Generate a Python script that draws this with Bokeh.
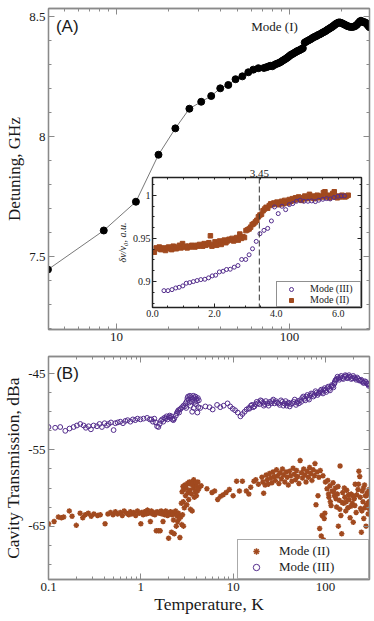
import numpy as np
from bokeh.plotting import figure
from bokeh.layouts import column
from bokeh.models import (FixedTicker, CustomJSTickFormatter, LinearAxis, LogAxis,
                          Range1d, Span, Label, Legend, LegendItem)
from bokeh.embed import file_html
from bokeh.resources import INLINE

# ---------------- data ----------------
# Panel A, Mode (I): temperature (K) vs detuning (GHz)
mode1_T = [4.02, 8.45, 12.96, 17.5, 21.9, 26.4, 30.9, 35.3, 39.8, 44.3, 48.8, 53.4, 57.8, 61.8, 66.1, 71.2,
           73.5, 75.5, 77.5, 79.5, 81.5, 83.5, 85.5, 87.5, 89.5, 91.5, 93.5, 95.5, 97.5, 99.5, 101.5, 103.5,
           105.5, 107.5, 109.5, 111.5, 113.5, 115.5, 117.5, 119.5, 122.5, 125, 128, 131, 134, 137, 140, 143,
           146, 149, 152, 155, 158, 161, 164, 167, 170, 173, 176, 179, 182, 185, 188, 191, 194, 197, 200,
           204, 208, 212, 216, 220, 225, 230, 235, 240, 245, 250, 255, 259, 263, 267, 271, 275, 279, 283,
           287, 290]
mode1_GHz = [7.446, 7.609, 7.729, 7.925, 8.035, 8.117, 8.146, 8.170, 8.202, 8.216, 8.240, 8.252, 8.269,
             8.280, 8.286, 8.287,
             8.290, 8.293, 8.296, 8.294, 8.299, 8.303, 8.306, 8.309, 8.313, 8.318, 8.322, 8.326, 8.331,
             8.336, 8.341, 8.344, 8.348, 8.351, 8.355, 8.358, 8.360, 8.363, 8.366, 8.369, 8.393, 8.397,
             8.401, 8.405, 8.409, 8.414, 8.417, 8.420, 8.424, 8.427, 8.430, 8.434, 8.437, 8.440, 8.444,
             8.448, 8.451, 8.455, 8.458, 8.462, 8.466, 8.470, 8.473, 8.476, 8.477, 8.476, 8.474, 8.471,
             8.468, 8.465, 8.462, 8.460, 8.458, 8.458, 8.459, 8.462, 8.467, 8.474, 8.481, 8.484, 8.481,
             8.478, 8.478, 8.476, 8.471, 8.466, 8.461, 8.457]

# Inset: normalised shift, Mode (III)
inset3_x = [0.37, 0.50, 0.63, 0.75, 0.86, 0.98, 1.09, 1.20, 1.32, 1.44, 1.56, 1.69, 1.81, 1.93, 2.04, 2.16,
            2.28, 2.39, 2.51, 2.64, 2.76, 2.88, 3.01, 3.12, 3.23, 3.35, 3.47, 3.60, 3.72, 3.84, 3.94, 4.06,
            4.18, 4.30, 4.42, 4.53, 4.65, 4.77, 4.89, 5.02, 5.14, 5.26, 5.37, 5.50, 5.62, 5.74, 5.86, 5.99,
            6.09, 6.20]
inset3_y = [0.8895, 0.8895, 0.8907, 0.8926, 0.8934, 0.8950, 0.8981, 0.8988, 0.9000, 0.9012, 0.9023, 0.9027,
            0.9043, 0.9066, 0.9074, 0.9112, 0.9120, 0.9140, 0.9143, 0.9167, 0.9186, 0.9256, 0.9256, 0.9310,
            0.9380, 0.9465, 0.9554, 0.9593, 0.9616, 0.9702, 0.9864, 0.9787, 0.9872, 0.9833, 0.9891, 0.9903,
            0.9930, 0.9942, 0.9930, 0.9930, 0.9934, 0.9926, 0.9942, 0.9953, 0.9961, 0.9957, 0.9973, 0.9988,
            0.9992, 0.9992]

# Inset: normalised shift, Mode (II)
inset2_x = [0.06, 0.12, 0.17, 0.22, 0.27, 0.32, 0.37, 0.42, 0.47,
            0.52, 0.57, 0.62, 0.67, 0.72, 0.77, 0.82, 0.87, 0.92, 0.97,
            1.02, 1.07, 1.12, 1.17, 1.22, 1.27, 1.32, 1.37, 1.42, 1.47,
            1.52, 1.57, 1.62, 1.67, 1.72, 1.77, 1.82, 1.87, 1.92, 1.97,
            2.02, 2.07, 2.12, 2.17, 2.22, 2.27, 2.32, 2.37, 2.42, 2.47,
            2.52, 2.57, 2.62, 2.67, 2.72, 2.77, 2.82, 2.87, 2.92, 2.97,
            3.02, 3.07, 3.12, 3.17, 3.22, 3.27, 3.32, 3.37, 3.42, 3.47,
            3.52, 3.57, 3.62, 3.67, 3.72, 3.77, 3.82, 3.87, 3.92, 3.97,
            4.02, 4.07, 4.12, 4.17, 4.22, 4.27, 4.32, 4.37, 4.42, 4.47,
            4.52, 4.57, 4.62, 4.67, 4.72, 4.77, 4.82, 4.87, 4.92, 4.97,
            5.02, 5.07, 5.12, 5.17, 5.22, 5.27, 5.32, 5.37, 5.42, 5.47,
            5.52, 5.57, 5.62, 5.67, 5.72, 5.77, 5.82, 5.87, 5.92, 5.97,
            6.02, 6.07, 6.12, 6.17, 6.22, 6.27, 6.32]
inset2_y = [0.934, 0.939, 0.938, 0.940, 0.937, 0.939, 0.938, 0.936, 0.939,
            0.940, 0.938, 0.937, 0.941, 0.939, 0.938, 0.940, 0.942, 0.939, 0.944,
            0.940, 0.941, 0.939, 0.941, 0.940, 0.942, 0.941, 0.940, 0.942, 0.941,
            0.943, 0.942, 0.941, 0.944, 0.942, 0.943, 0.945, 0.953, 0.941, 0.943,
            0.946, 0.942, 0.944, 0.947, 0.943, 0.946, 0.948, 0.945, 0.947, 0.949,
            0.948, 0.950, 0.947, 0.949, 0.951, 0.948, 0.955, 0.950, 0.952, 0.951,
            0.959, 0.960, 0.961, 0.963, 0.966, 0.967, 0.969, 0.971, 0.975, 0.977,
            0.978, 0.982, 0.984, 0.986, 0.985, 0.988, 0.990, 0.989, 0.991, 0.990,
            0.992, 0.989, 0.991, 0.993, 0.990, 0.994, 0.992, 0.991, 0.995, 0.993,
            0.996, 0.994, 0.997, 0.995, 0.998, 0.996, 0.994, 0.997, 0.999, 0.996,
            0.998, 1.001, 0.997, 0.999, 0.996, 0.998, 1.000, 0.997, 0.999, 0.998,
            1.003, 1.004, 0.998, 1.000, 0.997, 0.999, 1.002, 1.004, 0.998, 0.997,
            0.999, 0.998, 1.000, 0.999, 0.998, 0.999, 1.000]

# Panel B, Mode (III): temperature (K) vs transmission (dBa)
mode3_T = [0.100, 0.118, 0.134, 0.152, 0.169, 0.187, 0.203, 0.221, 0.240, 0.254, 0.272, 0.288, 0.308,
           0.335, 0.357, 0.379, 0.405, 0.430, 0.448, 0.475, 0.507, 0.529, 0.561, 0.599, 0.641, 0.680,
           0.720, 0.770, 0.820, 0.870, 0.920, 0.990, 1.07, 1.17, 1.25,
           1.30, 1.35, 1.40, 1.45, 1.50, 1.55, 1.60, 1.65, 1.70, 1.75, 1.80, 1.85, 1.90, 1.95, 2.00, 2.05,
           2.10, 2.15, 2.20, 2.25, 2.30, 2.40, 2.45, 2.50, 2.55, 2.60, 2.65, 2.70, 2.80, 2.90, 3.00, 3.05,
           3.10, 3.15, 3.20, 3.25, 3.30, 3.35, 3.40, 3.45, 3.50, 3.55, 3.60, 3.65, 3.70, 3.75, 3.80, 3.85,
           3.90, 3.95, 4.00, 4.05, 4.10, 4.15, 4.20, 4.25,
           4.4, 5.0, 5.56, 6.0, 6.7, 7.25, 7.9, 8.7, 9.3, 9.9, 10.5, 11.2, 12.0, 12.6, 13.3, 14.0, 14.8,
           15.6, 16.5, 17.5, 18.5, 19.8, 21, 22, 23.5, 25, 26.5, 28, 30, 32, 34, 36, 38, 40, 42, 45, 48,
           50, 53, 56, 59, 62, 65, 68, 72, 76, 80, 84, 88, 92, 96, 100, 105, 110, 115, 120, 125, 128,
           132, 138, 145, 152, 160, 168, 176, 185, 195, 205, 215, 226, 238, 250, 262, 275, 288, 300,
           15.0, 16.0, 17.0, 18.0, 19.2, 20.4, 21.5, 22.6, 24.2, 25.8, 27.2, 29.0, 31.0, 33.0, 35.0, 37.0,
           39.0, 41.0, 43.5, 46.5, 49.0, 51.5, 54.5, 57.5, 60.5, 63.5, 66.5, 70.0, 74.0, 78.0, 82.0, 86.0,
           90.0, 94.0, 98.0, 102.0, 107.0, 112.0, 117.0, 122.0, 126.0, 130.0, 135.0, 141.0, 148.0, 156.0,
           164.0, 172.0, 180.0, 190.0, 200.0, 210.0, 220.0, 232.0, 244.0, 256.0, 268.0, 282.0, 294.0]
mode3_dB = [-52.0, -52.1, -52.0, -52.5, -52.2, -52.0, -51.8, -51.6, -51.8, -52.1, -51.9, -52.3, -51.8,
            -51.9, -51.6, -52.0, -51.5, -51.8, -51.6, -51.4, -52.4, -51.5, -51.4, -51.3, -51.5, -51.2,
            -51.1, -51.3, -51.0, -51.1, -50.9, -51.0, -50.9, -50.8, -51.0,
            -51.0, -51.3, -50.9, -51.4, -51.9, -52.0, -51.6, -51.2, -51.0, -51.3, -50.8, -50.9, -50.6,
            -51.0, -50.7, -50.5, -50.8, -50.6, -51.0, -51.1, -50.9, -50.5, -50.2, -50.0, -49.8, -50.1,
            -49.7, -49.6, -49.4, -49.2, -49.3, -48.9, -49.5, -48.6, -48.2, -48.0, -48.4, -48.8, -47.9,
            -49.2, -48.1, -48.6, -50.0, -48.3, -47.9, -49.5, -48.2, -48.7, -48.0, -49.0, -48.3, -48.6,
            -50.1, -48.2, -49.4, -48.5,
            -49.5, -49.3, -49.4, -49.7, -49.1, -49.4, -49.2, -48.9, -49.3, -49.6, -49.8, -50.1, -50.6,
            -50.3, -50.0, -49.7, -49.5, -49.2, -49.4, -49.0, -48.9, -48.5, -48.8, -49.0, -48.9, -48.7,
            -48.6, -48.9, -48.8, -49.1, -48.7, -48.9, -49.2, -48.8, -49.0, -48.7, -49.1, -48.6, -48.5,
            -48.2, -48.3, -48.0, -48.2, -47.9, -47.7, -47.8, -47.5, -47.6, -47.3, -47.4, -47.1, -47.2,
            -46.9, -47.0, -46.7, -46.6, -46.3, -45.9, -45.7, -45.6, -45.5, -45.6, -45.4, -45.3, -45.5,
            -45.4, -45.6, -45.5, -45.8, -45.7, -45.9, -46.0, -46.2, -46.1, -46.4, -46.5,
            -49.6, -49.1, -49.3, -48.7, -49.0, -48.6, -49.2, -48.6, -49.2, -48.9, -48.4, -48.6, -48.9,
            -48.5, -49.2, -48.6, -48.9, -49.3, -48.9, -48.4, -48.8, -48.9, -48.7, -48.0, -48.5, -47.8,
            -48.4, -47.6, -48.0, -47.3, -47.8, -47.5, -47.1, -47.6, -46.9, -47.4, -46.7, -47.2, -46.5,
            -46.8, -46.1, -45.8, -45.4, -45.8, -45.3, -45.7, -45.2, -45.6, -45.2, -45.7, -45.3, -45.6,
            -45.5, -45.9, -45.8, -46.2, -46.0, -46.3, -46.6]

# Panel B, Mode (II): temperature (K) vs transmission (dBa)
mode2_T = [0.100, 0.115, 0.128, 0.138, 0.146, 0.168, 0.180, 0.200, 0.220, 0.235, 0.250, 0.270, 0.290,
           0.310, 0.340, 0.364, 0.410, 0.440, 0.470, 0.500,
           0.53, 0.56, 0.60, 0.63, 0.66, 0.70, 0.74, 0.77, 0.80, 0.84, 0.88, 0.92, 0.96, 1.00, 1.02, 1.06,
           1.10, 1.14, 1.18, 1.22, 1.27, 1.30, 1.34, 1.38, 1.42, 1.47, 1.50, 1.55, 1.58, 1.62, 1.66, 1.70,
           1.74, 1.78, 1.82, 1.86, 1.90, 1.95, 2.00, 2.02, 2.06, 2.10, 2.15, 2.18, 2.22, 2.26, 2.30, 2.34,
           2.38, 2.42, 2.46, 2.50, 2.55, 2.60, 2.65, 2.70,
           2.75, 2.78, 2.80, 2.83, 2.86, 2.88, 2.90, 2.93, 2.96, 3.00, 3.05, 3.10, 3.15, 3.20, 3.25, 3.30,
           3.35, 3.40, 3.45, 3.50, 3.55, 3.60, 3.65, 3.70, 3.74, 3.80, 3.85, 3.90, 3.95, 4.00, 4.05, 4.10,
           4.15, 4.24,
           4.5, 5.2, 5.9, 6.3, 6.8, 7.3, 7.8, 8.4, 9.1, 10.0, 10.9, 11.7, 12.6, 13.9, 14.8, 15.5, 16.8,
           17.6, 18.8, 21.4, 22.2,
           20.5, 21.0, 22.8, 23.4, 24.0, 24.8, 25.5, 26.3, 27.0, 27.8, 28.6, 29.5, 30.4, 31.3, 32.2, 33.2,
           34.2, 35.2, 36.3, 37.4, 38.5, 39.6, 40.8, 42.0, 43.3, 44.6, 45.9, 47.3, 48.7, 50.1, 51.6, 53.2,
           54.8, 56.4, 58.1, 59.8, 61.6, 63.4, 65.3, 67.3, 69.3, 71.4, 73.5, 75.7, 77.0, 79.0, 81.0, 83.0,
           85.0, 86.5, 88.0, 90.0, 92.0, 94.0, 95.5, 97.0, 98.5, 100.0,
           102, 104, 106, 109, 112, 115, 118, 121, 125, 128, 132, 135, 138, 141, 144, 147, 150, 154, 158,
           162, 166, 170, 175, 180, 185, 190, 195, 200, 205, 210, 215, 220, 225, 230, 235, 240, 245, 250,
           255, 260, 265, 270, 275, 280, 285, 290, 295, 300,
           108, 113, 123, 130, 137, 143, 152, 160, 168, 178, 188, 198, 208, 218, 228, 238, 248, 258, 268,
           278, 288, 298]
mode2_dB = [-64.7, -64.4, -63.8, -63.9, -63.8, -63.0, -63.7, -64.9, -63.3, -63.9, -63.5, -63.3, -63.7,
            -63.4, -63.6, -63.5, -64.7, -63.4, -63.2, -63.5,
            -63.1, -63.4, -63.2, -63.6, -63.0, -63.3, -63.5, -63.1, -63.4, -63.2, -63.6, -63.0, -63.3,
            -64.7, -63.2, -63.5, -63.1, -63.4, -62.9, -63.3, -64.4, -63.0, -63.4, -63.2, -63.5, -65.6,
            -63.1, -65.6, -63.3, -65.6, -63.0, -63.4, -64.4, -63.2, -63.5, -63.0, -63.3, -63.6, -66.6,
            -63.2, -63.4, -63.1, -65.8, -63.5, -63.2, -64.2, -66.0, -63.4, -63.0, -65.0, -63.6, -64.4,
            -63.3, -64.0, -66.5, -63.8,
            -62.0, -64.8, -60.5, -63.5, -59.8, -61.8, -65.0, -60.2, -62.6, -59.6, -61.0, -60.0, -62.2,
            -59.4, -60.6, -61.5, -59.2, -60.3, -62.8, -59.5, -60.8, -63.0, -59.1, -60.0, -58.9, -61.2,
            -59.6, -60.5, -59.3, -61.0, -59.8, -60.4, -59.2, -60.1,
            -59.7, -60.1, -60.6, -60.4, -61.5, -61.1, -60.9, -60.6, -60.2, -61.0, -59.1, -60.4, -59.1,
            -60.4, -60.8, -59.9, -59.1, -58.9, -59.5, -60.7, -59.6,
            -58.6, -59.2, -58.3, -58.9, -59.5, -58.1, -58.7, -59.3, -57.9, -58.5, -59.0, -57.6, -58.4,
            -59.4, -58.0, -58.8, -57.5, -58.3, -59.2, -57.9, -58.6, -59.6, -57.8, -58.4, -59.1, -57.4,
            -58.2, -58.9, -57.7, -58.5, -59.4, -56.4, -58.0, -58.7, -57.5, -58.3, -59.2, -57.8, -58.6,
            -57.3, -58.1, -59.0, -57.6, -58.4, -56.8, -62.2, -57.9, -61.0, -58.6, -65.3, -57.7, -66.3,
            -63.6, -58.4, -66.8, -64.0, -63.3, -59.2,
            -67.1, -60.1, -59.0, -61.2, -59.7, -62.3, -60.4, -59.3, -61.0, -60.0, -62.5, -60.8, -65.0,
            -61.6, -57.1, -63.6, -66.0, -60.6, -62.0, -61.2, -63.0, -60.3, -62.6, -61.5, -63.9, -60.8,
            -62.0, -64.5, -61.4, -59.5, -63.2, -67.2, -60.2, -57.8, -58.5, -62.7, -65.8, -60.4, -61.8,
            -64.0, -59.6, -61.0, -65.0, -62.2, -60.6, -63.4, -61.8, -62.8,
            -60.8, -61.8, -60.5, -61.4, -59.8, -62.8, -61.9, -60.0, -61.8, -60.9, -62.4, -61.0, -62.3,
            -60.9, -59.5, -61.2, -63.0, -60.0, -62.6, -61.0, -62.0, -60.2]

# ticks
top_x_major = [10, 100]
top_x_minor = [4, 5, 6, 7, 8, 9, 20, 30, 40, 50, 60, 70, 80, 90, 200]
top_y_major = [7.5, 8, 8.5]
inset_x_major = [0, 2, 4, 6]
inset_y_major = [0.9, 0.95, 1.0]
inset_top_tick = [3.45]
bot_x_major = [0.1, 1, 10, 100]
bot_x_minor = [0.2, 0.3, 0.4, 0.5, 0.6, 0.7, 0.8, 0.9, 2, 3, 4, 5, 6, 7, 8, 9,
               20, 30, 40, 50, 60, 70, 80, 90, 200, 300]
bot_y_major = [-65, -55, -45]

# ---------------- style ----------------
SERIF = "Liberation Serif"
SANS = "Liberation Sans"
PURPLE = "#532C8C"
BROWN = "#A14A1F"
FRAME = "#8a8a8a"
TXT = "#1a1a1a"

PLAIN = CustomJSTickFormatter(code="return tick.toString();")
EMPTY = CustomJSTickFormatter(code="return '';")


def style_axis(ax, color=FRAME, size="13px", tin=6, mtin=3, standoff=3):
    ax.major_tick_in = tin
    ax.major_tick_out = 0
    ax.minor_tick_in = mtin
    ax.minor_tick_out = 0
    ax.axis_line_color = color
    ax.axis_line_width = 1.3
    ax.major_tick_line_color = color
    ax.minor_tick_line_color = color
    ax.major_label_text_font = SERIF
    ax.major_label_text_font_size = size
    ax.major_label_text_color = TXT
    ax.major_label_standoff = standoff
    ax.axis_label_text_font = SERIF
    ax.axis_label_text_font_style = "normal"
    ax.axis_label_text_color = TXT


def mirror(p, cls, side, ticker, color=FRAME, tin=6, mtin=3):
    ax = cls(ticker=ticker, formatter=EMPTY)
    style_axis(ax, color=color, size="0px", tin=tin, mtin=mtin, standoff=0)
    p.add_layout(ax, side)
    return ax


# ---------------- Panel A ----------------
p1 = figure(width=374, height=348, x_axis_type="log",
            x_range=Range1d(4.05, 290), y_range=Range1d(7.196, 8.535),
            output_backend="svg", toolbar_location=None,
            min_border_left=48, min_border_right=5, min_border_top=8, min_border_bottom=19)
p1.grid.visible = False
p1.outline_line_color = FRAME
p1.outline_line_width = 1.3
top_y_minor = list(np.arange(7.2, 8.55, 0.1))
p1.xaxis.ticker = FixedTicker(ticks=top_x_major, minor_ticks=top_x_minor)
p1.xaxis.formatter = PLAIN
p1.yaxis.ticker = FixedTicker(ticks=top_y_major, minor_ticks=top_y_minor)
p1.yaxis.formatter = PLAIN
style_axis(p1.xaxis[0])
style_axis(p1.yaxis[0])
p1.yaxis.axis_label = "Detuning, GHz"
p1.yaxis.axis_label_text_font_size = "17px"
p1.yaxis.axis_label_standoff = 2
mirror(p1, LogAxis, "above", FixedTicker(ticks=top_x_major, minor_ticks=top_x_minor))
mirror(p1, LinearAxis, "right", FixedTicker(ticks=top_y_major, minor_ticks=top_y_minor))

p1.line(mode1_T, mode1_GHz, line_color="#555555", line_width=0.8)
p1.scatter(mode1_T, mode1_GHz, marker="circle", size=7, fill_color="black", line_color="black")
p1.add_layout(Label(x=82, y=8.46, text="Mode (I)", text_font=SERIF, text_font_size="13px",
                    text_align="center", text_baseline="middle", text_color=TXT))
p1.add_layout(Label(x=4.47, y=8.46, text="(A)", text_font=SANS, text_font_size="17px",
                    text_align="left", text_baseline="middle", text_color=TXT))

# ---------------- Inset ----------------
INK = "#222222"
pin = figure(width=262, height=158, x_range=Range1d(0, 6.75), y_range=Range1d(0.870, 1.0205),
             output_backend="svg", toolbar_location=None,
             min_border_left=48, min_border_right=4, min_border_top=14, min_border_bottom=14,
             margin=(-185, 0, 27, 104))
pin.border_fill_color = None
pin.background_fill_color = "white"
pin.outline_line_color = INK
pin.outline_line_width = 1.2
pin.grid.visible = False
inset_x_minor = list(np.arange(0, 6.8, 0.5))
inset_y_minor = list(np.arange(0.875, 1.02, 0.0125))
pin.xaxis.ticker = FixedTicker(ticks=inset_x_major, minor_ticks=inset_x_minor)
pin.xaxis.formatter = CustomJSTickFormatter(code="return tick.toFixed(1);")
pin.yaxis.ticker = FixedTicker(ticks=inset_y_major, minor_ticks=inset_y_minor)
pin.yaxis.formatter = PLAIN
style_axis(pin.xaxis[0], color=INK, size="10px", tin=4, mtin=2, standoff=2)
style_axis(pin.yaxis[0], color=INK, size="10px", tin=4, mtin=2, standoff=2)
pin.yaxis.axis_label = "δν/ν₀, a.u."
pin.yaxis.axis_label_text_font_size = "10px"
pin.yaxis.axis_label_text_font_style = "italic"
pin.yaxis.axis_label_standoff = 2
top_in = LinearAxis(ticker=FixedTicker(ticks=inset_top_tick, minor_ticks=inset_x_minor), formatter=PLAIN)
style_axis(top_in, color=INK, size="11px", tin=0, mtin=2, standoff=1)
pin.add_layout(top_in, "above")
mirror(pin, LinearAxis, "right", FixedTicker(ticks=inset_y_major, minor_ticks=inset_y_minor),
       color=INK, tin=4, mtin=2)
pin.add_layout(Span(location=inset_top_tick[0], dimension="height", line_color="#333333",
                    line_width=1, line_dash="6 3"))
r_in2 = pin.scatter(inset2_x, inset2_y, marker="square", size=4.5, fill_color=BROWN, line_color=BROWN)
r_in3 = pin.scatter(inset3_x, inset3_y, marker="circle", size=4, fill_color=None, line_color=PURPLE,
                    line_width=1)
leg_in = Legend(items=[LegendItem(label="Mode (III)", renderers=[r_in3]),
                       LegendItem(label="Mode (II)", renderers=[r_in2])],
                location="bottom_right", margin=0, padding=1, spacing=0,
                glyph_width=26, glyph_height=10, label_height=10, label_width=49, label_standoff=6,
                label_text_font=SERIF, label_text_font_size="10px", label_text_color=TXT,
                border_line_color=INK, border_line_width=1, background_fill_alpha=1)
pin.add_layout(leg_in)

# ---------------- Panel B ----------------
p2 = figure(width=374, height=272, x_axis_type="log",
            x_range=Range1d(0.1, 300), y_range=Range1d(-72.0, -42.75),
            output_backend="svg", toolbar_location=None,
            min_border_left=48, min_border_right=5, min_border_top=8, min_border_bottom=41)
p2.grid.visible = False
p2.outline_line_color = FRAME
p2.outline_line_width = 1.3
bot_y_minor = list(np.arange(-72.5, -42, 2.5))
p2.xaxis.ticker = FixedTicker(ticks=bot_x_major, minor_ticks=bot_x_minor)
p2.xaxis.formatter = PLAIN
p2.yaxis.ticker = FixedTicker(ticks=bot_y_major, minor_ticks=bot_y_minor)
p2.yaxis.formatter = PLAIN
style_axis(p2.xaxis[0])
style_axis(p2.yaxis[0])
p2.xaxis.axis_label = "Temperature, K"
p2.xaxis.axis_label_text_font_size = "17.5px"
p2.xaxis.axis_label_standoff = 0
p2.yaxis.axis_label = "Cavity Transmission, dBa"
p2.yaxis.axis_label_text_font_size = "17.5px"
p2.yaxis.axis_label_standoff = 2
mirror(p2, LogAxis, "above", FixedTicker(ticks=bot_x_major, minor_ticks=bot_x_minor))
mirror(p2, LinearAxis, "right", FixedTicker(ticks=bot_y_major, minor_ticks=bot_y_minor))

r2 = p2.scatter(mode2_T, mode2_dB, marker="asterisk", size=5.5, line_color=BROWN, line_width=1.5)
r3 = p2.scatter(mode3_T, mode3_dB, marker="circle", size=4.8, fill_color=None, line_color=PURPLE,
                line_width=1)
p2.add_layout(Label(x=0.121, y=-45, text="(B)", text_font=SANS, text_font_size="17px",
                    text_align="left", text_baseline="middle", text_color=TXT))
leg2 = Legend(items=[LegendItem(label="Mode (II)", renderers=[r2]),
                     LegendItem(label="Mode (III)", renderers=[r3])],
              location="bottom_right", margin=0, padding=3, spacing=0,
              glyph_width=30, glyph_height=16, label_height=16, label_width=86, label_standoff=8,
              label_text_font=SERIF, label_text_font_size="13px", label_text_color=TXT,
              border_line_color="#555555", border_line_width=1, background_fill_alpha=1)
p2.add_layout(leg2)

layout = column(p1, pin, p2)
open("out.html", "w").write(file_html(layout, INLINE))
